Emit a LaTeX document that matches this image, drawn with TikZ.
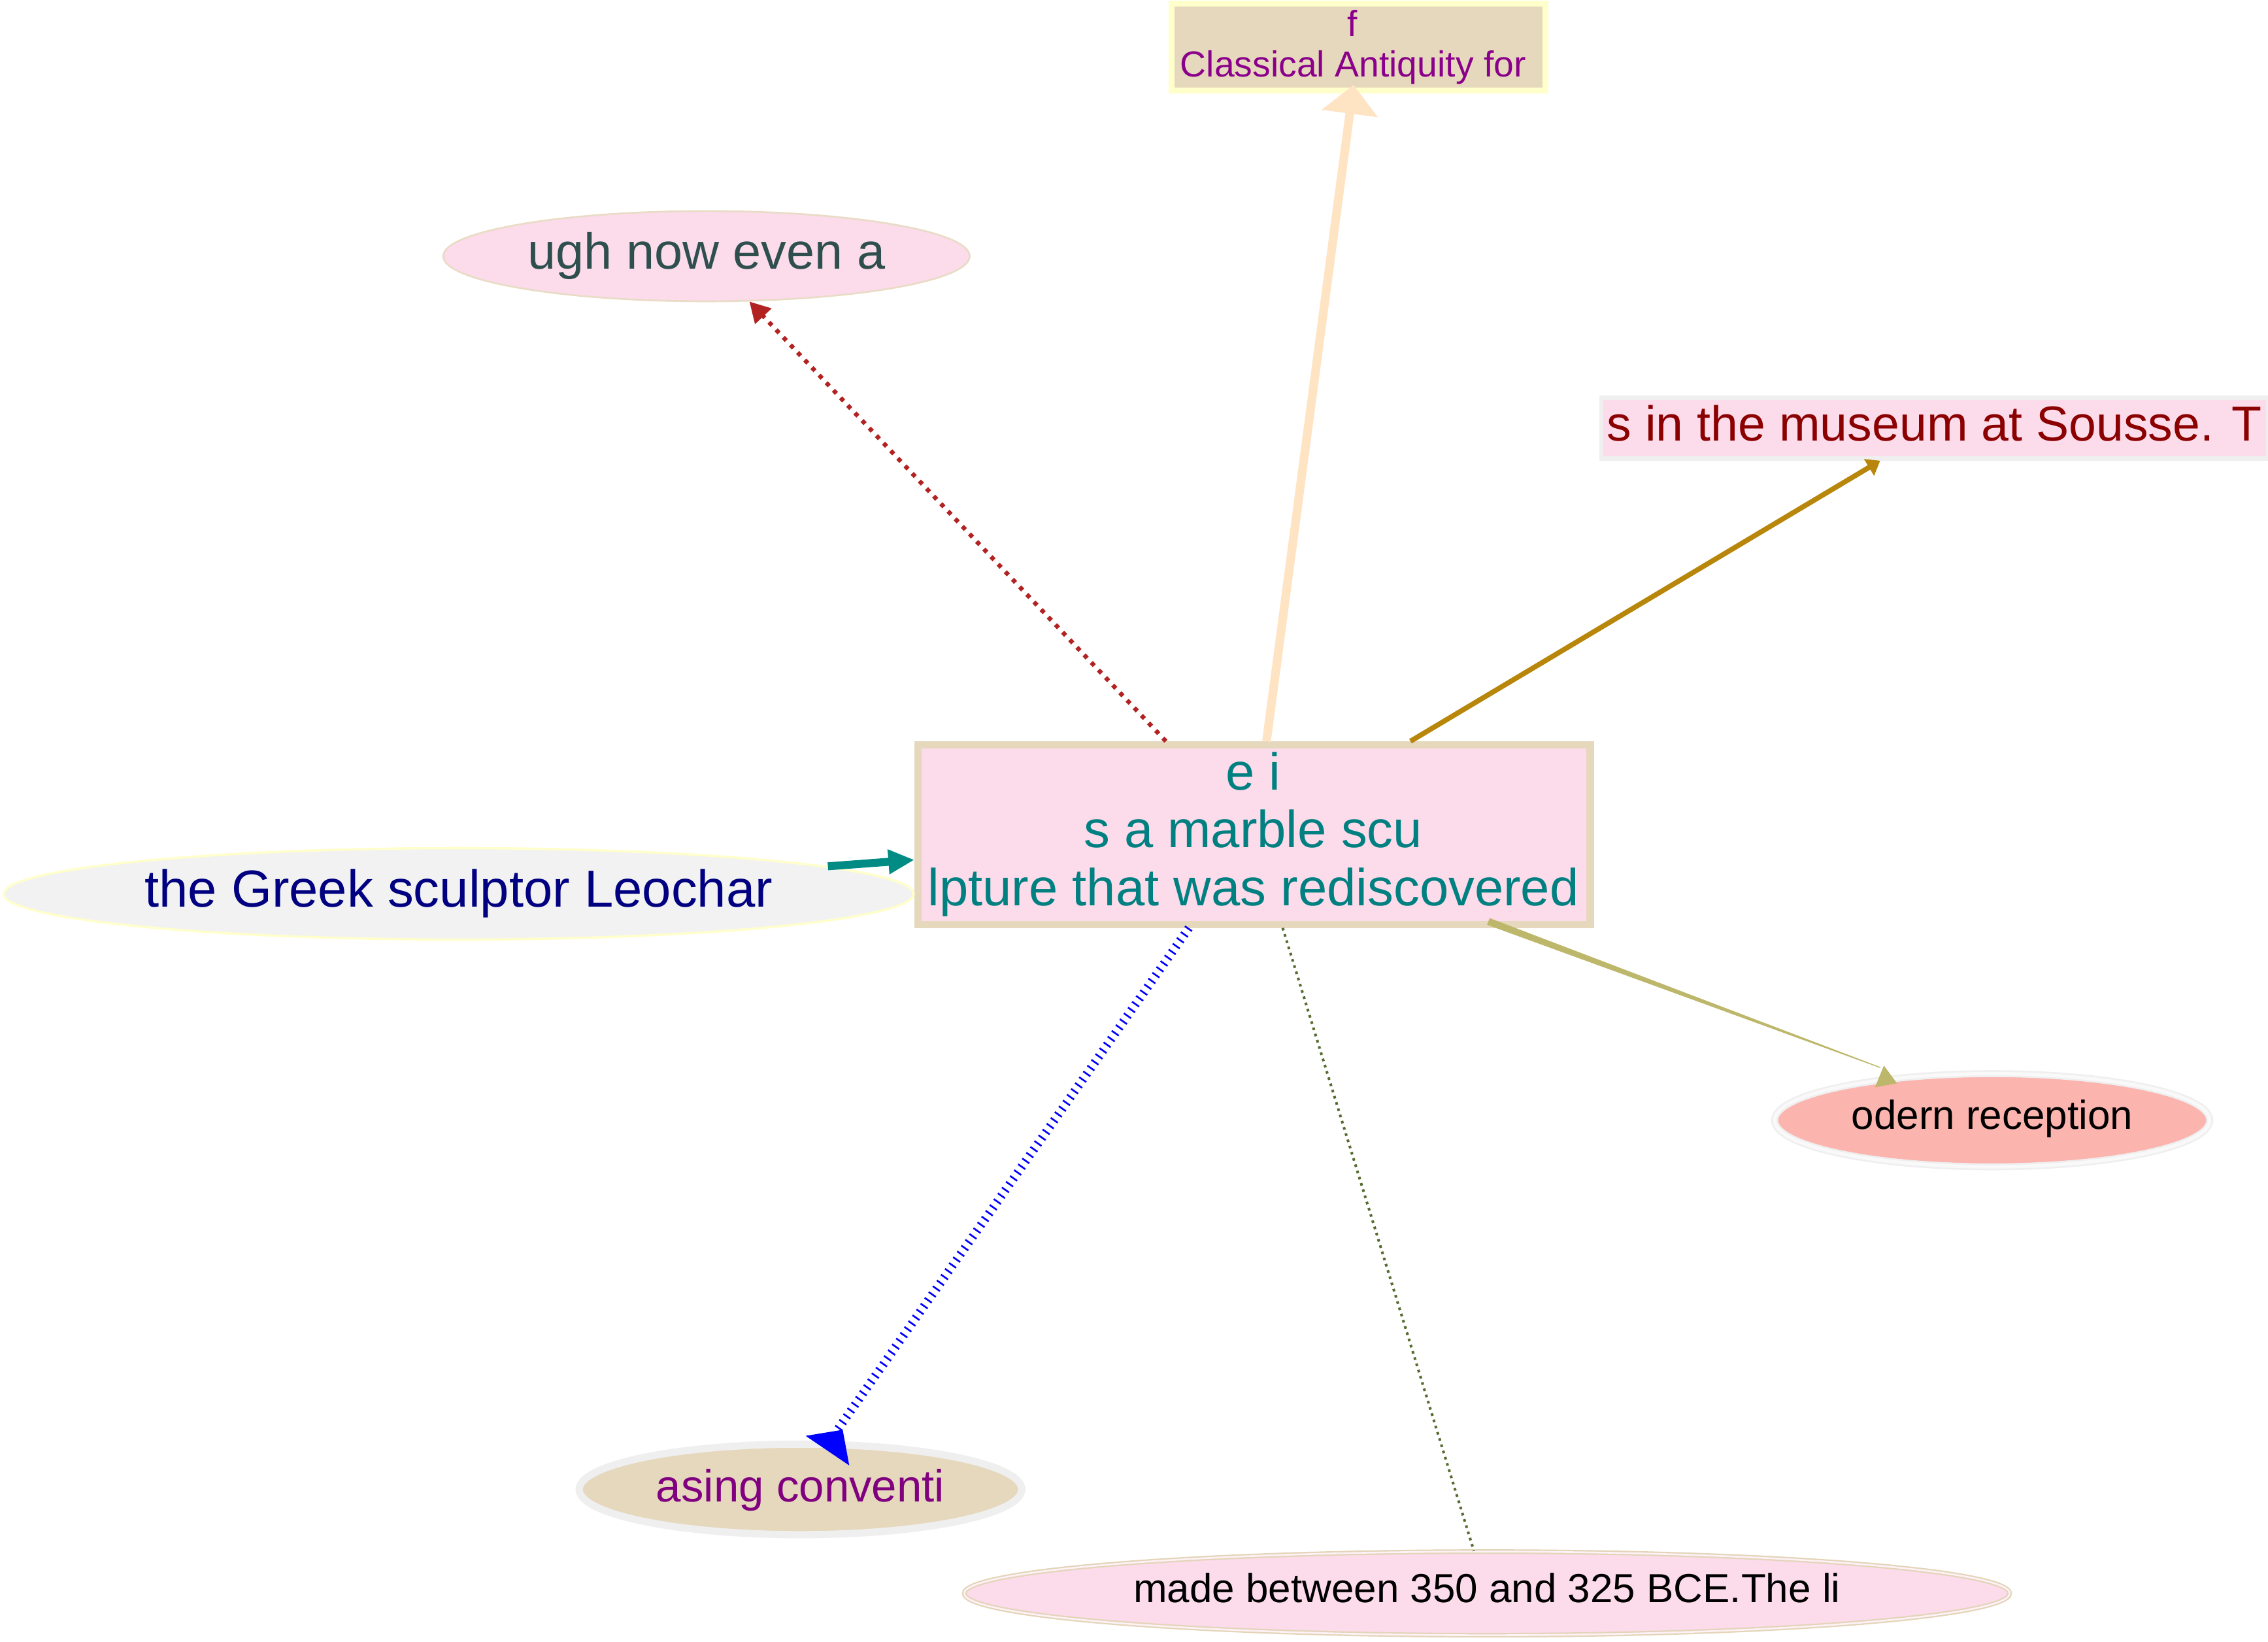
\documentclass[tikz,border=0pt]{standalone}
\usepackage{fontspec}
\setmainfont{Liberation Sans}
\usetikzlibrary{arrows.meta,shapes.geometric}
\definecolor{pinkfill}{HTML}{FCDBEB}
\definecolor{tanfill}{HTML}{E6D8BD}
\definecolor{tanline}{HTML}{E5D8BD}
\definecolor{lyellow}{HTML}{FFFFCC}
\definecolor{ringgray}{HTML}{EFEFEF}
\definecolor{salmonfill}{HTML}{FBB4AE}
\definecolor{lgrayfill}{HTML}{F2F2F2}
\definecolor{tealtext}{HTML}{008080}
\definecolor{tealedge}{HTML}{008B84}
\definecolor{peach}{HTML}{FFE4C4}
\definecolor{firebrick}{HTML}{B22222}
\definecolor{goldrod}{HTML}{B8860B}
\definecolor{dkhaki}{HTML}{BDB76B}
\definecolor{dolive}{HTML}{556B2F}
\definecolor{dslate}{HTML}{2F4F4F}
\definecolor{dred}{HTML}{8B0000}
\definecolor{navytext}{HTML}{000080}
\definecolor{dmagenta}{HTML}{8B008B}
\definecolor{purpletext}{HTML}{800080}
\definecolor{ughline}{HTML}{E9DCC6}
\definecolor{madeline}{HTML}{E3D5B8}
\begin{document}
\begin{tikzpicture}[x=0.5pt,y=-0.5pt,
  box/.style={rectangle, inner sep=0pt, text depth=0pt},
  oval/.style={ellipse, inner sep=0pt, text depth=0pt},
  linetext/.style={inner sep=0pt, anchor=base},
  redE/.style={draw=firebrick, line width=1.5pt, dash pattern=on 1.5pt off 2.1pt,
    -{Triangle[length=7pt,width=7.5pt,fill=firebrick]}},
  peachE/.style={draw=peach, line width=3pt,
    -{Triangle[length=10pt,width=19pt,fill=peach]}},
  goldE/.style={draw=goldrod, line width=1.75pt,
    -{Triangle[length=4.5pt,width=6.5pt,fill=goldrod]}},
  tealE/.style={draw=tealedge, line width=2.75pt,
    -{Triangle[length=9pt,width=8pt,fill=tealedge]}},
  blueE/.style={draw=blue, line width=3pt, dash pattern=on 0.6pt off 1.85pt},
  oliveE/.style={draw=dolive, line width=0.9pt, dash pattern=on 0.9pt off 1.35pt},
]
\useasboundingbox (0,0) rectangle (1568,1134.7);
\fill[white] (0,0) rectangle (1568,1134.7);

% nodes
\node[box, fill=pinkfill, draw=tanline, line width=2.5pt,
  minimum width=232.35pt, minimum height=62.05pt] (main) at (867.05,576.95) {};
\node[linetext, text=tealtext, font=\fontsize{18pt}{20pt}\selectfont] (mainA) at (866.5,546) {e i};
\node[linetext, text=tealtext, font=\fontsize{18pt}{20pt}\selectfont] (mainB) at (866.3,586) {s a marble scu};
\node[linetext, text=tealtext, font=\fontsize{18pt}{20pt}\selectfont] (mainC) at (866.5,626) {lpture that was rediscovered};

\node[box, fill=tanfill, draw=lyellow, line width=2pt,
  minimum width=129.25pt, minimum height=30.15pt] (top) at (939.25,32.45) {};
\node[linetext, text=dmagenta, font=\fontsize{12.5pt}{14pt}\selectfont] (topA) at (935,24.9) {f};
\node[linetext, text=dmagenta, font=\fontsize{12.5pt}{14pt}\selectfont] (topB) at (935.5,53) {Classical Antiquity for};

\node[box, fill=pinkfill, draw=ringgray, line width=1.5pt,
  minimum width=230.5pt, minimum height=21pt, text height=8.6pt,
  text=dred, font=\fontsize{17pt}{19pt}\selectfont] (sousse) at (1337.5,296) {s in the museum at Sousse. T};

\node[oval, fill=pinkfill, draw=ughline, line width=0.6pt,
  minimum width=182pt, minimum height=31.2pt, text height=8.9pt,
  text=dslate, font=\fontsize{17.5pt}{19pt}\selectfont] (ugh) at (488.4,177.1) {ugh now even a};

\node[oval, fill=lgrayfill, draw=lyellow, line width=0.8pt,
  minimum width=314.6pt, minimum height=31.6pt, text height=9pt,
  text=navytext, font=\fontsize{18pt}{20pt}\selectfont] (leo) at (317.1,617.9) {the Greek sculptor Leochar};

\node[oval, fill=salmonfill, draw=ringgray, double=white!60!ringgray, double distance=1.2pt, line width=0.6pt,
  minimum width=150.4pt, minimum height=32.2pt, text height=6pt,
  text=black, font=\fontsize{14pt}{16pt}\selectfont] (odern) at (1377.3,774.4) {odern reception};

\node[oval, fill=tanfill, draw=ringgray, line width=2.5pt,
  minimum width=153pt, minimum height=31.3pt, text height=8.4pt,
  text=purpletext, font=\fontsize{15.6pt}{17pt}\selectfont] (asing) at (553.4,1029.6) {asing conventi};

\node[oval, fill=pinkfill, draw=madeline, double=pinkfill!40!white, double distance=0.6pt, line width=0.5pt,
  minimum width=361.4pt, minimum height=28.9pt, text height=6.4pt,
  text=black, font=\fontsize{14pt}{16pt}\selectfont] (made) at (1028,1101.5) {made between 350 and 325 BCE.The li};

% connectors
\draw[redE] (main) -- (ugh);
\draw[peachE, shorten >=-3pt] (main) -- (top);
\draw[goldE] (main) -- (sousse);
\draw[tealE] (leo) -- (main);
\draw[oliveE] (main) -- (made);

\coordinate (bE) at (579.2,988.1);
\draw[blueE] (main) -- (bE);
\fill[blue] (557,992.6) -- (582.6,988.4) -- (587.1,1013) -- cycle;

\coordinate (kS) at (1029,637);
\coordinate (kE) at (1300,738);
\fill[dkhaki] (1028.1,639.3) -- (1029.9,634.7) -- (1300.1,737.7) -- (1299.9,738.3) -- cycle;
\fill[dkhaki] (1302.4,736.6) -- (1296.3,751.6) -- (1311.5,748.9) -- cycle;
\end{tikzpicture}
\end{document}
